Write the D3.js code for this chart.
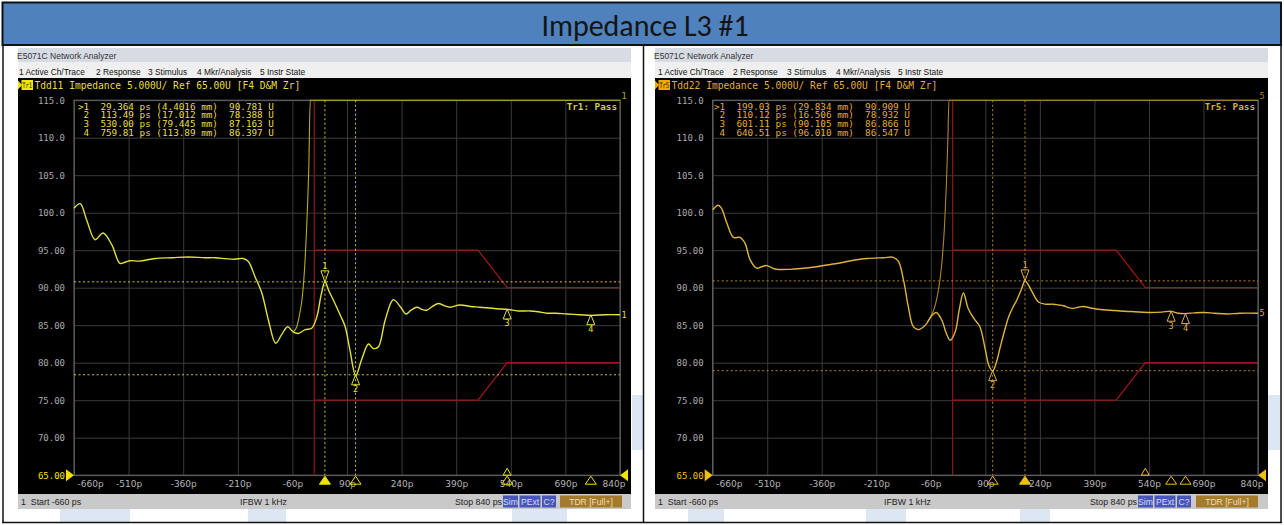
<!DOCTYPE html>
<html><head><meta charset="utf-8">
<script src="https://cdn.jsdelivr.net/npm/d3@7"></script>
<style>body{margin:0;background:#fff;}svg{display:block;}</style>
</head><body>
<svg id="c" width="1284" height="525"></svg>
<script>
// ---------------- data ----------------
const chartTitle = "Impedance L3 #1";
const xTicks = [-660,-510,-360,-210,-60,90,240,390,540,690,840];
const xTickLabels = ["-660p","-510p","-360p","-210p","-60p","90p","240p","390p","540p","690p","840p"];
const yTicks = [115,110,105,100,95,90,85,80,75,70,65];
const yTickLabels = ["115.0","110.0","105.0","100.0","95.00","90.00","85.00","80.00","75.00","70.00","65.00"];

// Tdd11 (left) main trace, ps -> ohm
const tdd11Time = [-660,-643,-625,-602,-580,-556,-534,-520,-506,-480,-437,-390,-346,-300,-272,-240,-218,-195,-181,-163,-144,-126,-106,-90,-73,-58,-44,-25,-7,7,18,29.4,40,52,71,85,98,114,130,149,162,176,195,217,236,252,266,282,296,309,325,341,357,373,400,430,455,500,533,560,593,615,639,665,694,730,760,800,840];
const tdd11Value = [100.6,101.2,99.0,96.4,97.3,95.7,93.25,93.4,93.6,93.55,93.9,94.0,94.1,94.0,94.0,93.85,93.8,93.9,93.5,91.5,89.3,85.7,82.6,83.7,84.8,84.1,83.9,84.4,84.6,86.1,88.8,90.8,89.6,88.4,86.4,84.8,81.7,78.3,80.4,82.5,81.9,82.1,85.7,88.4,87.5,86.5,87.0,87.4,87.1,87.0,87.5,87.9,87.6,87.4,87.7,87.5,87.4,87.2,87.1,86.9,86.9,86.8,86.6,86.6,86.5,86.4,86.3,86.4,86.4];
// second (off-scale) trace on the left screen
const tdd11bTime = [-58,-48,-40,-33,-26,-20,-15,-11,840];
const tdd11bValue = [84.1,84.8,86.5,88.7,93.0,99.0,106.0,115.0,115.0];

// Tdd22 (right) main trace
const tdd22Time = [-660,-645,-636,-621,-603,-585,-571,-557,-539,-525,-511,-489,-447,-410,-374,-336,-300,-268,-236,-190,-163,-149,-135,-122,-108,-94,-82,-71,-57,-45,-30,-18,-7,7,18,29.6,43,60,75,90,100,110.1,120,131,143,154,166,177,190,199,208,218,236,256,277,291,305,318,332,346,360,380,406,435,461,500,544,575,601,620,640,665,690,720,755,790,840];
const tdd22Value = [100.4,101.0,100.6,98.6,96.7,96.7,95.9,93.7,92.6,92.8,92.95,92.5,92.45,92.6,92.8,93.1,93.4,93.7,93.9,94.0,94.05,93.5,91.0,87.5,84.8,84.4,84.7,85.25,86.3,86.7,85.7,84.0,83.0,84.1,87.0,89.3,87.2,85.8,84.8,81.7,79.6,78.9,80.0,82.1,84.3,86.1,87.4,88.4,89.9,90.9,90.4,89.5,88.1,87.8,87.8,87.7,87.6,87.35,87.25,87.4,87.5,87.3,87.1,87.0,86.9,86.8,86.7,86.75,86.85,86.6,86.55,86.65,86.7,86.6,86.5,86.6,86.6];
const tdd22bTime = [-70,-60,-50,-42,-35,-28,-22,-17,-13,-10,840];
const tdd22bValue = [85.4,86.2,87.3,88.9,91.0,94.2,98.5,104.0,110.0,115.0,115.0];

// limit lines
const limitTime = [0,450,530,840];
const limitUpper = [95,95,90,90];
const limitLower = [75,75,80,80];

// marker tables
const m11Time = [29.364,113.49,530.00,759.81];
const m11Dist = ["4.4016","17.012","79.445","113.89"];
const m11Value = [90.781,78.388,87.163,86.397];
const m22Time = [199.03,110.12,601.11,640.51];
const m22Dist = ["29.834","16.506","90.105","96.010"];
const m22Value = [90.909,78.932,86.866,86.547];
const otherMarkerTime = [530];

const menuItems = ["1 Active Ch/Trace","2 Response","3 Stimulus","4 Mkr/Analysis","5 Instr State"];

// ---------------- drawing ----------------
const svg = d3.select("#c");
const MONO = "DejaVu Sans Mono, Liberation Mono, monospace";
const SANS = "Liberation Sans, Arial, sans-serif";

// faint background blocks in the white frame
[[60,509,70,13],[248,509,38,13],[512,509,55,13],[688,509,36,13],[866,509,40,13],[632,395,11,55],[1268,395,12,55],[1020,509,30,13]].forEach(r=>{
  svg.append("rect").attr("x",r[0]).attr("y",r[1]).attr("width",r[2]).attr("height",r[3]).attr("fill","#dde6f3");
});

// title bar
svg.append("rect").attr("x",2.5).attr("y",2.5).attr("width",1278.5).attr("height",42.5)
  .attr("fill","#4f81bd").attr("stroke","#111").attr("stroke-width",2);
svg.append("text").attr("x",645).attr("y",35.5).attr("text-anchor","middle")
  .attr("font-family","Carlito, Liberation Sans Narrow, Liberation Sans, sans-serif").attr("font-size",30)
  .attr("fill","#141414").text(chartTitle);

// frame lines
const frame = svg.append("g").attr("stroke","#111").attr("stroke-width",1.5);
frame.append("line").attr("x1",3).attr("x2",3).attr("y1",45).attr("y2",523);
frame.append("line").attr("x1",643.5).attr("x2",643.5).attr("y1",45).attr("y2",523);
frame.append("line").attr("x1",1281).attr("x2",1281).attr("y1",45).attr("y2",523);
frame.append("line").attr("x1",2).attr("x2",1282).attr("y1",522.5).attr("y2",522.5);

function panel(p){
  const g = svg.append("g");
  const w = p.x1 - p.x0;
  // screen black
  g.append("rect").attr("x",p.x0).attr("y",48).attr("width",w).attr("height",461).attr("fill","#000");
  // window title
  g.append("rect").attr("x",p.x0).attr("y",48).attr("width",w).attr("height",14).attr("fill","#d7dce4");
  g.append("text").attr("x",p.x0-1).attr("y",58.5).attr("font-family",SANS).attr("font-size",8.5).attr("fill","#333").text("E5071C Network Analyzer");
  // menu bar
  g.append("rect").attr("x",p.x0).attr("y",62).attr("width",w).attr("height",16).attr("fill","#efefef");
  menuItems.forEach((m,i)=>{
    g.append("text").attr("x",p.menuX[i]).attr("y",74.5).attr("font-family",SANS).attr("font-size",8.4).attr("fill","#111").text(m);
  });

  const x = d3.scaleLinear().domain([-660,840]).range([p.pl,p.pr]);
  const y = d3.scaleLinear().domain([65,115]).range([475.2,100.2]);

  // header line
  g.append("path").attr("d",`M${p.x0},80.5L${p.x0+4},85L${p.x0},89.5Z`).attr("fill",p.hiBg);
  g.append("rect").attr("x",p.x0+3.5).attr("y",80).attr("width",11.5).attr("height",10).attr("fill",p.hiBg);
  g.append("text").attr("x",p.x0+4.2).attr("y",88).attr("font-family",MONO).attr("font-size",7.5)
    .attr("textLength",10).attr("lengthAdjust","spacingAndGlyphs").attr("fill","#222").text(p.tr);
  g.append("text").attr("x",p.x0+16.5).attr("y",89).attr("font-family",MONO).attr("font-size",9.6).attr("fill",p.txt)
    .attr("xml:space","preserve").style("white-space","pre").text(p.header);

  // grid
  const grid = g.append("g");
  grid.append("g").attr("transform",`translate(0,${y(65)})`)
    .call(d3.axisBottom(x).tickValues(xTicks).tickSize(-(y(65)-y(115))).tickFormat(""))
    .call(s=>{s.select(".domain").remove(); s.selectAll("line").attr("stroke","#3a3a3a");});
  grid.append("g").attr("transform",`translate(${p.pl},0)`)
    .call(d3.axisLeft(y).tickValues(yTicks).tickSize(-(p.pr-p.pl)).tickFormat(""))
    .call(s=>{s.select(".domain").remove(); s.selectAll("line").attr("stroke","#3a3a3a");});
  g.append("rect").attr("x",p.pl).attr("y",y(115)).attr("width",p.pr-p.pl).attr("height",y(65)-y(115))
    .attr("fill","none").attr("stroke","#6e6e6e").attr("stroke-width",1);

  // y labels
  const ya = g.append("g").attr("transform",`translate(${p.pl},0)`)
    .call(d3.axisLeft(y).tickValues(yTicks).tickSize(0).tickPadding(9).tickFormat((d,i)=>yTickLabels[i]));
  ya.select(".domain").remove();
  ya.selectAll("text").attr("font-family",MONO).attr("font-size",9).attr("fill",d=>d===65?p.refCol:"#a9a9a9");
  // x labels
  const xa = g.append("g").attr("transform",`translate(0,${y(65)})`)
    .call(d3.axisBottom(x).tickValues(xTicks).tickSize(0).tickPadding(5).tickFormat((d,i)=>xTickLabels[i]));
  xa.select(".domain").remove();
  xa.selectAll("text").attr("font-family","DejaVu Sans, sans-serif").attr("font-size",9).attr("fill","#b4b4b4").attr("dy","0.8em");
  xa.selectAll(".tick").filter((d,i)=>i===0).select("text").attr("text-anchor","start").attr("x",3);
  xa.selectAll(".tick").filter((d,i)=>i===xTicks.length-1).select("text").attr("text-anchor","end").attr("x",5);

  // limit lines
  const lim = d3.line().x(d=>x(d[0])).y(d=>y(d[1]));
  g.append("line").attr("x1",x(limitTime[0])).attr("x2",x(limitTime[0])).attr("y1",y(115)).attr("y2",y(65))
    .attr("stroke","#8e1616").attr("stroke-width",1.2);
  g.append("path").attr("d",lim(limitTime.map((t,i)=>[t,limitUpper[i]]))).attr("fill","none").attr("stroke","#9a1a1a").attr("stroke-width",1.3);
  g.append("path").attr("d",lim(limitTime.map((t,i)=>[t,limitLower[i]]))).attr("fill","none").attr("stroke","#9a1a1a").attr("stroke-width",1.3);

  // marker reference dotted lines (markers 1 & 2)
  [0,1].forEach(i=>{
    g.append("line").attr("x1",p.pl).attr("x2",p.pr).attr("y1",y(p.mV[i])).attr("y2",y(p.mV[i]))
      .attr("stroke",p.dot).attr("stroke-width",1).attr("stroke-dasharray","2,2.5");
    g.append("line").attr("x1",x(p.mT[i])).attr("x2",x(p.mT[i])).attr("y1",y(115)).attr("y2",y(65))
      .attr("stroke",p.dot).attr("stroke-width",1).attr("stroke-dasharray","2,2.5");
  });

  // traces
  const thinLine = d3.line().curve(d3.curveMonotoneX).x(d=>x(d[0])).y(d=>y(Math.min(115,d[1])));
  const line = d3.line().curve(d3.curveCatmullRom.alpha(0.5)).x(d=>x(d[0])).y(d=>y(d[1]));
  g.append("path").attr("d",thinLine(p.bT.map((t,i)=>[t,p.bV[i]]))).attr("fill","none").attr("stroke",p.thin).attr("stroke-width",1.1);
  g.append("path").attr("d",line(p.T.map((t,i)=>[t,p.V[i]]))).attr("fill","none").attr("stroke",p.col).attr("stroke-width",1.4);
  // trace end labels
  g.append("text").attr("x",p.pr+1.5).attr("y",y(p.V[p.V.length-1])+3).attr("font-family",MONO).attr("font-size",8.5).attr("fill",p.col).text(p.num);
  g.append("text").attr("x",p.pr+1.5).attr("y",y(p.bV[p.bV.length-1])-1).attr("font-family",MONO).attr("font-size",8.5).attr("fill",p.thin).text(p.num);

  // markers on trace
  p.mT.forEach((t,i)=>{
    const mx = x(t), my = y(p.mV[i]);
    if(i===0){
      g.append("path").attr("d",`M${mx-4},${my-11}L${mx+4},${my-11}L${mx},${my}Z`).attr("fill","none").attr("stroke",p.col).attr("stroke-width",1);
      g.append("text").attr("x",mx).attr("y",my-12.5).attr("text-anchor","middle").attr("font-family",MONO).attr("font-size",8.5).attr("fill",p.col).text(i+1);
    } else {
      g.append("path").attr("d",`M${mx-4},${my+10}L${mx+4},${my+10}L${mx},${my}Z`).attr("fill","none").attr("stroke",p.col).attr("stroke-width",1);
      g.append("text").attr("x",mx).attr("y",my+17.5).attr("text-anchor","middle").attr("font-family",MONO).attr("font-size",8.5).attr("fill",p.col).text(i+1);
    }
  });
  // markers on the x axis
  const yb = y(65);
  p.mT.forEach((t,i)=>{
    const mx = x(t);
    g.append("path").attr("d",`M${mx-5.5},${yb+9}L${mx+5.5},${yb+9}L${mx},${yb+1}Z`)
      .attr("fill",i===0?p.refCol:"none").attr("stroke",p.refCol).attr("stroke-width",1);
  });
  otherMarkerTime.forEach(t=>{
    const mx = x(t);
    g.append("path").attr("d",`M${mx-4},${yb}L${mx+4},${yb}L${mx},${yb-7}Z`).attr("fill","none").attr("stroke",p.refCol).attr("stroke-width",1);
  });
  // reference arrows
  g.append("path").attr("d",`M${p.pl-8},${yb-6}L${p.pl},${yb}L${p.pl-8},${yb+6}Z`).attr("fill",p.refCol);
  g.append("path").attr("d",`M${p.pr+8},${yb-6}L${p.pr},${yb}L${p.pr+8},${yb+6}Z`).attr("fill",p.refCol);

  // marker table
  p.mT.forEach((t,i)=>{
    const s = `${i===0?">":" "}${i+1}  ${t.toPrecision(5)} ps (${p.mD[i]} mm)  ${p.mV[i].toFixed(3)} U`;
    g.append("text").attr("x",p.tabX).attr("y",109.5+i*8.7).attr("font-family",MONO).attr("font-size",9.3)
      .attr("fill",p.txt).attr("xml:space","preserve").style("white-space","pre").text(s);
  });
  g.append("text").attr("x",p.pr-3).attr("y",110).attr("text-anchor","end").attr("font-family",MONO).attr("font-size",9.3)
    .attr("font-weight","bold").attr("fill",p.pass).text(p.passTxt);

  // status bar
  g.append("rect").attr("x",p.x0).attr("y",494).attr("width",w).attr("height",15).attr("fill","#c9c9c9");
  g.append("text").attr("x",p.x0+3).attr("y",505).attr("font-family",SANS).attr("font-size",8.8).attr("fill","#222")
    .attr("xml:space","preserve").style("white-space","pre").text("1  Start -660 ps");
  g.append("text").attr("x",p.ifbwX).attr("y",505).attr("font-family",SANS).attr("font-size",8.8).attr("fill","#222").text("IFBW 1 kHz");
  g.append("text").attr("x",p.stopX).attr("y",505).attr("font-family",SANS).attr("font-size",8.8).attr("fill","#222").text("Stop 840 ps");
  p.boxes.forEach(b=>{
    g.append("rect").attr("x",b[0]).attr("y",495.5).attr("width",b[1]).attr("height",12).attr("fill",b[3]);
    g.append("text").attr("x",b[0]+b[1]/2).attr("y",505).attr("text-anchor","middle").attr("font-family",SANS).attr("font-size",8.6).attr("fill",b[4]).text(b[2]);
  });
}

panel({x0:18,x1:631,pl:74,pr:620,menuX:[19,96,148,197,260],tr:"Tr1",
  header:"Tdd11 Impedance 5.000U/ Ref 65.00U [F4 D&M Zr]",
  hiBg:"#f2e600",txt:"#e6de44",col:"#e2e23c",thin:"#b4ac22",dot:"#c9c436",refCol:"#f2e200",
  T:tdd11Time,V:tdd11Value,bT:tdd11bTime,bV:tdd11bValue,num:"1",
  mT:m11Time,mD:m11Dist,mV:m11Value,tabX:78,pass:"#cfcf3a",passTxt:"Tr1: Pass",
  ifbwX:240,stopX:455,
  boxes:[[503,15,"Sim","#4856b8","#d8dcff"],[519.5,21,"PExt","#4856b8","#d8dcff"],[542,14,"C?","#4856b8","#d8dcff"],[560,62,"TDR [Full+]","#a47a2c","#f3dfb0"]]});

panel({x0:655,x1:1268,pl:712.7,pr:1258,menuX:[658,733,787,836,898],tr:"Tr5",
  header:"Tdd22 Impedance 5.000U/ Ref 65.00U [F4 D&M Zr]",
  hiBg:"#f0a800",txt:"#e2ac34",col:"#dcb43a",thin:"#ad842c",dot:"#b8822c",refCol:"#f0c010",
  T:tdd22Time,V:tdd22Value,bT:tdd22bTime,bV:tdd22bValue,num:"5",
  mT:m22Time,mD:m22Dist,mV:m22Value,tabX:714,pass:"#d9ad3a",passTxt:"Tr5: Pass",
  ifbwX:884,stopX:1090,
  boxes:[[1138,15,"Sim","#4856b8","#d8dcff"],[1154.5,21,"PExt","#4856b8","#d8dcff"],[1177,14,"C?","#4856b8","#d8dcff"],[1196,62,"TDR [Full+]","#a47a2c","#f3dfb0"]]});
</script>
</body></html>
